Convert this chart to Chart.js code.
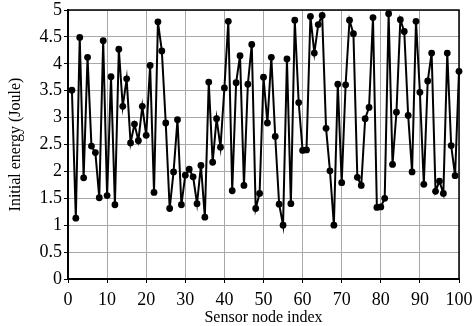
<!DOCTYPE html>
<html>
<head>
<meta charset="utf-8">
<script src="https://cdn.jsdelivr.net/npm/chart.js@4/dist/chart.umd.min.js"></script>
<style>
html,body{margin:0;padding:0;background:#fff;}
canvas{display:block;}
</style>
</head>
<body>
<canvas id="c" width="476" height="326"></canvas>
<script>
const nodeIndex = [1,2,3,4,5,6,7,8,9,10,11,12,13,14,15,16,17,18,19,20,
  21,22,23,24,25,26,27,28,29,30,31,32,33,34,35,36,37,38,39,40,
  41,42,43,44,45,46,47,48,49,50,51,52,53,54,55,56,57,58,59,60,
  61,62,63,64,65,66,67,68,69,70,71,72,73,74,75,76,77,78,79,80,
  81,82,83,84,85,86,87,88,89,90,91,92,93,94,95,96,97,98,99,100];
const initialEnergy = [3.51,1.13,4.49,1.88,4.12,2.47,2.35,1.51,4.43,1.55,
  3.76,1.38,4.27,3.21,3.72,2.53,2.88,2.57,3.21,2.67,
  3.97,1.61,4.78,4.24,2.90,1.31,1.99,2.96,1.38,1.93,
  2.04,1.90,1.40,2.11,1.15,3.66,2.17,2.98,2.45,3.55,
  4.79,1.64,3.65,4.15,1.74,3.62,4.36,1.31,1.59,3.75,
  2.90,4.12,2.65,1.39,1.00,4.09,1.40,4.81,3.28,2.39,
  2.40,4.88,4.20,4.73,4.90,2.80,2.01,1.00,3.62,1.79,
  3.61,4.81,4.56,1.89,1.74,2.98,3.19,4.86,1.33,1.34,
  1.50,4.93,2.13,3.10,4.82,4.60,3.04,1.99,4.79,3.47,
  1.76,3.68,4.20,1.63,1.82,1.59,4.20,2.48,1.92,3.86];
const xTicks = {min:0, max:100, step:10};
const yTicks = {min:0, max:5, step:0.5};
const xTitle = 'Sensor node index';
const yTitle = 'Initial energy (Joule)';

const frame = {
  id:'frame',
  afterDatasetsDraw(chart){
    const a = chart.chartArea, ctx = chart.ctx;
    ctx.save();
    ctx.strokeStyle = '#000';
    ctx.lineWidth = 1.5;
    ctx.beginPath();
    ctx.moveTo(a.left, a.top);
    ctx.lineTo(a.right, a.top);
    ctx.lineTo(a.right, a.bottom);
    ctx.stroke();
    ctx.restore();
  }
};

const family = '"Liberation Serif", "Times New Roman", serif';
const font = {family, size:18};
new Chart(document.getElementById('c'), {
  type:'line',
  data:{datasets:[{
    data: nodeIndex.map((x,i)=>({x, y: initialEnergy[i]})),
    borderColor:'#000', backgroundColor:'#000', borderWidth:2,
    pointRadius:3.4, pointHoverRadius:3.4, pointBackgroundColor:'#000', pointBorderWidth:0,
    tension:0, clip:false
  }]},
  options:{
    responsive:false, animation:false, devicePixelRatio:1,
    layout:{padding:{left:0,right:17,top:10,bottom:0}},
    plugins:{legend:{display:false}, tooltip:{enabled:false}},
    scales:{
      x:{type:'linear', min:xTicks.min, max:xTicks.max,
        ticks:{stepSize:xTicks.step, color:'#000', font, padding:6, maxRotation:0},
        grid:{color:'#a8a8a8', lineWidth:1, tickColor:'#000', tickLength:4, drawTicks:true},
        border:{color:'#000', width:2},
        title:{display:true, text:xTitle, color:'#000', font:{family,size:16}, padding:{top:0,bottom:-1}},
        afterFit(s){ s.height = 47; s.paddingLeft = 0; s.paddingRight = 0; }
      },
      y:{type:'linear', min:yTicks.min, max:yTicks.max,
        ticks:{stepSize:yTicks.step, color:'#000', font, padding:2, callback:v=>String(v)},
        grid:{color:'#a8a8a8', lineWidth:1, tickColor:'#000', tickLength:4},
        border:{color:'#000', width:2},
        title:{display:true, text:yTitle, color:'#000', font:{family,size:16}, padding:{top:6,bottom:0}},
        afterFit(s){ s.width = 68; s.paddingTop = 0; s.paddingBottom = 0; }
      }
    }
  },
  plugins:[frame]
});
</script>
</body>
</html>
